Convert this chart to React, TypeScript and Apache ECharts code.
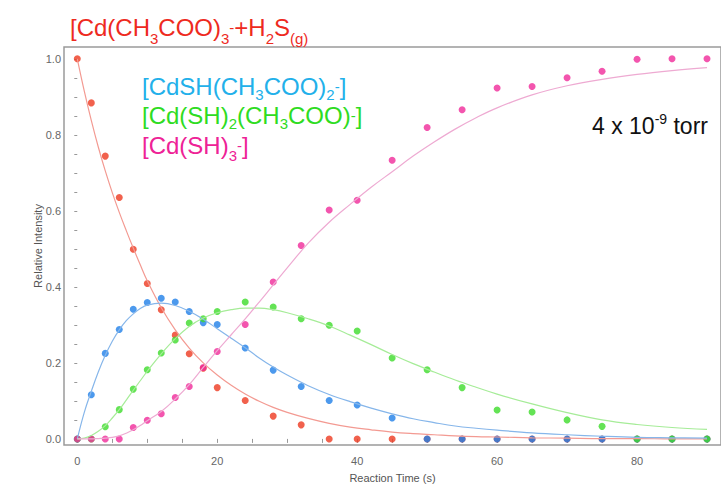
import React, { useEffect, useRef } from "react";
import * as echarts from "echarts";

// Sample times (s)
const times = [0, 2, 4, 6, 8, 10, 12, 14, 16, 18, 20, 24, 28, 32, 36, 40, 45, 50, 55, 60, 65, 70, 75, 80, 85, 90];
// Measured relative intensities
const redPts = [1.0, 0.884, 0.744, 0.635, 0.499, 0.409, 0.34, 0.273, 0.224, 0.186, 0.135, 0.101, 0.06, 0.037, 0, 0, 0, 0, 0, 0, 0, 0, 0, 0, 0, 0];
const bluePts = [0, 0.116, 0.225, 0.288, 0.341, 0.359, 0.37, 0.36, 0.335, 0.306, 0.301, 0.239, 0.181, 0.138, 0.101, 0.089, 0.055, 0, 0, 0, 0, 0, 0, 0, 0, 0];
const greenPts = [0, 0, 0.032, 0.077, 0.131, 0.182, 0.226, 0.26, 0.305, 0.316, 0.335, 0.36, 0.347, 0.316, 0.299, 0.284, 0.213, 0.182, 0.135, 0.076, 0.071, 0.05, 0.033, 0, 0, 0];
const pinkPts = [0, 0, 0, 0, 0.03, 0.049, 0.066, 0.109, 0.138, 0.188, 0.23, 0.301, 0.413, 0.509, 0.602, 0.628, 0.733, 0.819, 0.866, 0.923, 0.927, 0.95, 0.967, 0.999, 1.0, 1.0];

// Fitted curves
const fitTimes = [0, 1, 2, 3, 4, 5, 6, 7, 8, 9, 10, 12, 14, 16, 18, 20, 22, 24, 26, 28, 30, 33, 36, 39, 42, 45, 48, 51, 54, 57, 60, 65, 70, 75, 80, 85, 90];
const redFit = [1.0, 0.915, 0.838, 0.768, 0.705, 0.648, 0.596, 0.548, 0.502, 0.458, 0.416, 0.345, 0.287, 0.239, 0.2, 0.168, 0.141, 0.118, 0.099, 0.083, 0.07, 0.054, 0.041, 0.031, 0.024, 0.018, 0.014, 0.011, 0.008, 0.006, 0.005, 0.003, 0.002, 0.001, 0.001, 0, 0];
const blueFit = [0, 0.07, 0.125, 0.176, 0.22, 0.257, 0.287, 0.311, 0.329, 0.343, 0.352, 0.357, 0.351, 0.336, 0.315, 0.29, 0.265, 0.24, 0.213, 0.189, 0.168, 0.14, 0.117, 0.098, 0.081, 0.066, 0.053, 0.043, 0.034, 0.028, 0.023, 0.016, 0.011, 0.007, 0.004, 0.003, 0.002];
const greenFit = [0, 0.002, 0.009, 0.02, 0.035, 0.055, 0.077, 0.102, 0.128, 0.153, 0.178, 0.224, 0.264, 0.296, 0.318, 0.332, 0.34, 0.344, 0.344, 0.34, 0.332, 0.316, 0.297, 0.273, 0.248, 0.222, 0.198, 0.176, 0.155, 0.136, 0.118, 0.092, 0.069, 0.05, 0.038, 0.03, 0.025];
const pinkFit = [0, 0, 0, 0.001, 0.002, 0.004, 0.008, 0.015, 0.024, 0.035, 0.048, 0.072, 0.105, 0.143, 0.188, 0.232, 0.274, 0.316, 0.36, 0.405, 0.45, 0.515, 0.57, 0.617, 0.662, 0.703, 0.744, 0.781, 0.815, 0.845, 0.871, 0.905, 0.929, 0.946, 0.959, 0.969, 0.977];

// Axis ticks / labels
const xLabels = [0, 20, 40, 60, 80];
const xTicks = [0, 5, 10, 15, 20, 25, 30, 35, 40, 45, 50, 55, 60, 65, 70, 75, 80, 85, 90];
const yLabels = [0, 0.2, 0.4, 0.6, 0.8, 1.0];
const yTicks = [0, 0.05, 0.1, 0.15, 0.2, 0.25, 0.3, 0.35, 0.4, 0.45, 0.5, 0.55, 0.6, 0.65, 0.7, 0.75, 0.8, 0.85, 0.9, 0.95, 1.0];

const FONT = '"Liberation Sans", Arial, Helvetica, sans-serif';

const pair = (xs: number[], ys: number[]) => xs.map((x, i) => [x, ys[i]]);

// L = line height of the block; the larger it is, the lower the subscripts sit
function rich(color: string, size: number, L: number) {
  const small = Math.round(size * 0.62);
  return {
    n: { fontSize: size, lineHeight: L, fill: color, fontFamily: FONT, verticalAlign: "middle" },
    s: { fontSize: small, lineHeight: 8, fill: color, fontFamily: FONT, verticalAlign: "bottom" },
    m: { fontSize: small, lineHeight: 15, fill: color, fontFamily: FONT, verticalAlign: "middle" },
    p: { fontSize: small, lineHeight: 16, fill: color, fontFamily: FONT, verticalAlign: "top" },
  };
}

// baseline: y of the main text's baseline
function label(x: number, baseline: number, text: string, color: string, size: number, L: number) {
  return {
    type: "text",
    x,
    y: baseline - L / 2 - 0.35 * size,
    silent: true,
    style: {
      text,
      rich: rich(color, size, L),
      fill: color,
      fontFamily: FONT,
      fontSize: size,
      align: "left",
      verticalAlign: "top",
    },
  };
}

const RED = "#ee2a1e";
const CYAN = "#22b0ea";
const GREEN = "#2edc22";
const MAGENTA = "#ee2296";

export default function App() {
  const ref = useRef<HTMLDivElement>(null);
  useEffect(() => {
    const chart = echarts.init(ref.current!, null, { renderer: "svg" });
    const axisText = { color: "#666", fontSize: 11, fontFamily: FONT };
    const fitLine = (data: number[], color: string) => ({
      type: "line",
      data: pair(fitTimes, data),
      smooth: 0.4,
      showSymbol: false,
      silent: true,
      lineStyle: { color, width: 1.2 },
    });
    chart.setOption({
      animation: false,
      backgroundColor: "#fff",
      grid: {
        left: 64,
        top: 47,
        width: 669,
        height: 406,
        show: true,
        borderColor: "#9a9a9a",
        borderWidth: 1.5,
        containLabel: false,
      },
      xAxis: {
        type: "value",
        min: -1.9,
        max: 92,
        splitLine: { show: false },
        axisLine: { show: false },
        axisTick: { show: true, customValues: xTicks, length: 4, lineStyle: { color: "#999" } },
        axisLabel: { ...axisText, customValues: xLabels, margin: 10, formatter: (v: number) => String(v) },
        name: "Reaction Time (s)",
        nameLocation: "middle",
        nameGap: 27,
        nameMoveOverlap: false,
        nameTextStyle: { color: "#555", fontSize: 11, fontFamily: FONT },
      },
      yAxis: {
        type: "value",
        min: -0.016,
        max: 1.031,
        splitLine: { show: false },
        axisLine: { show: false },
        axisTick: { show: true, customValues: yTicks, length: 3, lineStyle: { color: "#999" } },
        axisLabel: { ...axisText, customValues: yLabels, margin: 3, formatter: (v: number) => v.toFixed(1) },
        name: "Relative Intensity",
        nameLocation: "middle",
        nameGap: 21,
        nameMoveOverlap: false,
        nameTextStyle: { color: "#555", fontSize: 11, fontFamily: FONT },
      },
      series: [
        fitLine(redFit, "#f39a92"),
        fitLine(blueFit, "#86b6ea"),
        fitLine(greenFit, "#a6ec98"),
        fitLine(pinkFit, "#eeaad2"),
        { type: "scatter", data: pair(times, redPts), symbolSize: 7, itemStyle: { color: "#ee3a20" } },
        { type: "scatter", data: pair(times, bluePts), symbolSize: 7, itemStyle: { color: "#1f7fe8" } },
        { type: "scatter", data: pair(times, greenPts), symbolSize: 7, itemStyle: { color: "#3ddc2a" } },
        { type: "scatter", data: pair(times, pinkPts), symbolSize: 7, itemStyle: { color: "#f02a9a" } },
      ],
      graphic: [
        label(70, 36, "{n|[Cd(CH}{s|3}{n|COO)}{s|3}{m|-}{n|+H}{s|2}{n|S}{s|(g)}", RED, 24, 36),
        label(142, 95, "{n|[CdSH(CH}{s|3}{n|COO)}{s|2}{m|-}{n|]}", CYAN, 24, 30),
        label(142, 124, "{n|[Cd(SH)}{s|2}{n|(CH}{s|3}{n|COO)}{m|-}{n|]}", GREEN, 24, 30),
        label(142, 153.5, "{n|[Cd(SH)}{s|3}{m|-}{n|]}", MAGENTA, 24, 36),
        label(592, 134, "{n|4 x 10}{p|-9}{n| torr}", "#111", 23, 28),
      ],
    });
    return () => chart.dispose();
  }, []);
  return (
    <div
      ref={ref}
      style={{ position: "fixed", left: 0, top: 0, width: 721, height: 488, background: "#fff" }}
    />
  );
}
